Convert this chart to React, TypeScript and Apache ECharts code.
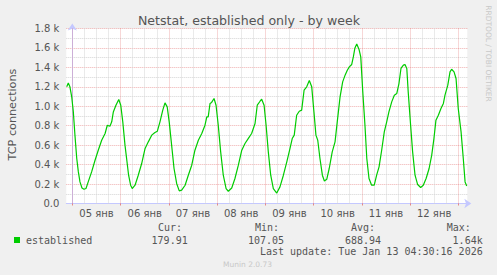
import React, { useEffect, useRef } from "react";
import * as echarts from "echarts";

// hours since 05 Jan 00:00
const hours = [
  -2.8, -2.0, -1.2, -0.3, 0.5, 1.3, 2.2, 3.0, 3.8, 4.8, 5.8, 6.8, 7.9, 9.6, 11.3, 12.9, 14.6, 16.3, 17.4, 18.7,
  19.6, 20.4, 21.7, 23.1, 24.1, 25.1, 26.2, 27.0, 28.0, 29.0, 29.8, 31.2, 32.8, 34.5, 36.2, 37.8, 39.5, 41.1, 42.3, 43.6,
  45.0, 46.1, 47.2, 48.2, 49.4, 50.6, 51.9, 53.2, 54.4, 56.1, 57.7, 59.4, 61.0, 62.7, 64.4, 66.0, 66.9, 67.6, 68.5, 69.3,
  70.5, 71.5, 72.6, 73.8, 75.1, 76.5, 77.6, 79.3, 80.9, 82.6, 84.3, 85.9, 87.5, 89.2, 90.9, 92.0, 93.4, 94.2, 95.4, 96.4,
  97.5, 98.7, 100.0, 101.7, 103.3, 105.0, 106.7, 108.3, 109.4, 110.4, 111.6, 112.9, 114.1, 115.3, 116.6, 117.9, 119.1, 120.2, 121.2, 122.1,
  123.2, 124.4, 125.4, 126.6, 127.8, 129.3, 130.7, 131.8, 133.2, 134.5, 135.7, 136.8, 137.8, 139.0, 139.8, 140.6, 141.5, 142.6, 143.5, 144.5,
  145.6, 146.5, 147.6, 148.9, 150.2, 151.4, 152.6, 153.9, 155.2, 156.4, 157.5, 158.9, 160.2, 161.4, 162.5, 163.5, 164.7, 165.5, 166.4, 167.1,
  168.3, 169.3, 170.5, 171.8, 173.3, 174.6, 176.0, 177.5, 178.8, 179.9, 180.9, 182.1, 183.4, 184.6, 185.4, 186.8, 187.9, 188.7, 189.9, 190.9,
  192.0, 193.4, 194.5, 195.4, 196.2,
];
const established = [
  1200, 1240, 1200, 1096, 942, 703, 463, 325, 222, 160, 147, 154, 222, 325, 445, 548, 651, 720, 805, 795,
  840, 942, 1011, 1070, 1011, 840, 600, 463, 291, 188, 154, 188, 291, 411, 566, 634, 703, 730, 744, 840,
  960, 1035, 994, 840, 600, 360, 206, 130, 137, 188, 291, 394, 548, 651, 720, 805, 891, 891, 1029, 1040,
  1080, 1011, 805, 531, 291, 154, 126, 160, 257, 394, 548, 617, 668, 720, 823, 1011, 1052, 1073, 1011, 805,
  531, 291, 154, 107, 171, 291, 428, 566, 668, 703, 908, 949, 960, 1165, 1200, 1265, 1200, 942, 703, 651,
  463, 291, 232, 250, 360, 531, 634, 840, 1097, 1251, 1320, 1371, 1405, 1430, 1508, 1600, 1640, 1587, 1508, 1148,
  800, 463, 257, 188, 188, 291, 377, 548, 737, 840, 942, 1045, 1114, 1131, 1234, 1389, 1423, 1430, 1389, 1148,
  805, 531, 291, 195, 165, 188, 257, 360, 497, 668, 857, 908, 977, 1029, 1114, 1217, 1354, 1381, 1354, 1286,
  977, 737, 463, 222, 180,
];

const dayLabels = ["05 янв", "06 янв", "07 янв", "08 янв", "09 янв", "10 янв", "11 янв", "12 янв"];
const dayLabelHours = [12, 36, 60, 84, 108, 132, 156, 180];
const dayBoundaryHours = [0, 24, 48, 72, 96, 120, 144, 168, 192];
const sixHourLines = [6, 12, 18, 30, 36, 42, 54, 60, 66, 78, 84, 90, 102, 108, 114, 126, 132, 138, 150, 156, 162, 174, 180, 186];

const title = "Netstat, established only - by week";
const yAxisTitle = "TCP connections";
const legendName = "established";
const statHeaders = ["Cur:", "Min:", "Avg:", "Max:"];
const statValues = ["179.91", "107.05", "688.94", "1.64k"];
const lastUpdate = "Last update: Tue Jan 13 04:30:16 2026";
const footer = "Munin 2.0.73";
const sideText = "RRDTOOL / TOBI OETIKER";

const X_MIN = -3;
const X_MAX = 196.5;

export default function App() {
  const ref = useRef<HTMLDivElement>(null);
  useEffect(() => {
    if (!ref.current) return;
    const chart = echarts.init(ref.current, null, { renderer: "svg" });
    const sans = "DejaVu Sans";
    const mono = "DejaVu Sans Mono";
    const textColor = "#555555";
    const headerX = [158, 255, 351, 446.7];
    const valueRight = [187.7, 284, 381, 482.7];

    const graphics: any[] = [
      {
        type: "text", x: 249, y: 20,
        style: { text: title, fill: textColor, font: `12.6px '${sans}'`, textAlign: "center", textVerticalAlign: "middle" },
      },
      {
        type: "text", x: 12, y: 114.5, rotation: Math.PI / 2,
        style: { text: yAxisTitle, fill: textColor, font: `11.2px '${sans}'`, textAlign: "center", textVerticalAlign: "middle" },
      },
      {
        type: "text", x: 488, y: 53.5, rotation: -Math.PI / 2,
        style: { text: sideText, fill: "#c8c8c8", font: `7.5px '${sans}'`, textAlign: "center", textVerticalAlign: "middle" },
      },
      { type: "rect", shape: { x: 14, y: 237, width: 6, height: 6 }, style: { fill: "#00cc00" } },
      {
        type: "text", x: 26, y: 240,
        style: { text: legendName, fill: textColor, font: `10px '${mono}'`, textAlign: "left", textVerticalAlign: "middle" },
      },
      {
        type: "text", x: 482.7, y: 251.7,
        style: { text: lastUpdate, fill: textColor, font: `10px '${mono}'`, textAlign: "right", textVerticalAlign: "middle" },
      },
      {
        type: "text", x: 247.5, y: 264,
        style: { text: footer, fill: "#c8c8c8", font: `7.5px '${sans}'`, textAlign: "center", textVerticalAlign: "middle" },
      },
    ];
    statHeaders.forEach((h, i) => {
      graphics.push({
        type: "text", x: headerX[i], y: 227.3,
        style: { text: h, fill: textColor, font: `10px '${mono}'`, textAlign: "left", textVerticalAlign: "middle" },
      });
      graphics.push({
        type: "text", x: valueRight[i], y: 240,
        style: { text: statValues[i], fill: textColor, font: `10px '${mono}'`, textAlign: "right", textVerticalAlign: "middle" },
      });
    });

    const axisColor = "#c4c8ff";
    const majorGrid = "rgba(225,110,110,0.55)";
    const minorGrid = "#d4d4d4";

    chart.setOption({
      animation: false,
      backgroundColor: "#f0f0f0",
      grid: { left: 66.3, right: 29.7, top: 28.5, bottom: 71.5, show: true, backgroundColor: "#ffffff", borderWidth: 0 },
      xAxis: {
        type: "value",
        min: X_MIN,
        max: X_MAX,
        axisLine: {
          show: true, lineStyle: { color: axisColor, width: 1 },
          symbol: ["none", "arrow"], symbolSize: [7, 7], symbolOffset: [0, 4],
        },
        axisTick: {
          show: true, customValues: dayBoundaryHours, length: 2, inside: false,
          lineStyle: { color: "rgba(225,110,110,0.8)" },
        },
        axisLabel: {
          show: true, customValues: dayLabelHours, margin: 5, color: textColor, fontSize: 10, fontFamily: sans,
          formatter: (v: number) => dayLabels[dayLabelHours.indexOf(Math.round(v))] ?? "",
        },
        splitLine: { show: false },
      },
      yAxis: {
        type: "value",
        min: 0,
        max: 1800,
        interval: 200,
        axisLine: {
          show: true, lineStyle: { color: axisColor, width: 1 },
          symbol: ["none", "arrow"], symbolSize: [7, 7], symbolOffset: [0, 5],
        },
        axisTick: { show: false },
        axisLabel: {
          margin: 7, color: textColor, fontSize: 10, fontFamily: sans,
          formatter: (v: number) => (v === 0 ? "0.0" : (v / 1000).toFixed(1) + " k"),
        },
        splitLine: { show: true, lineStyle: { color: majorGrid, type: [1, 1], width: 1 } },
        minorTick: { show: false, splitNumber: 2 },
        minorSplitLine: { show: true, lineStyle: { color: minorGrid, type: [1, 1], width: 1 } },
      },
      series: [
        {
          type: "line", data: [], silent: true, z: 1,
          markLine: {
            silent: true, symbol: "none", label: { show: false }, animation: false,
            lineStyle: { color: minorGrid, type: [1, 1], width: 1 },
            data: sixHourLines.map((h) => ({ xAxis: h })),
          },
        },
        {
          type: "line", data: [], silent: true, z: 2,
          markLine: {
            silent: true, symbol: "none", label: { show: false }, animation: false,
            lineStyle: { color: majorGrid, type: [1, 1], width: 1 },
            data: dayBoundaryHours.map((h) => ({ xAxis: h })),
          },
        },
        {
          type: "line", name: legendName, z: 5,
          data: hours.map((h, i) => [h, established[i]]),
          showSymbol: false, symbol: "none",
          lineStyle: { color: "#00cc00", width: 1.2 },
          itemStyle: { color: "#00cc00" },
        },
      ],
      graphic: graphics,
    });
    return () => chart.dispose();
  }, []);
  return (
    <div
      ref={ref}
      style={{ position: "fixed", left: 0, top: 0, width: 497, height: 275 }}
    />
  );
}
